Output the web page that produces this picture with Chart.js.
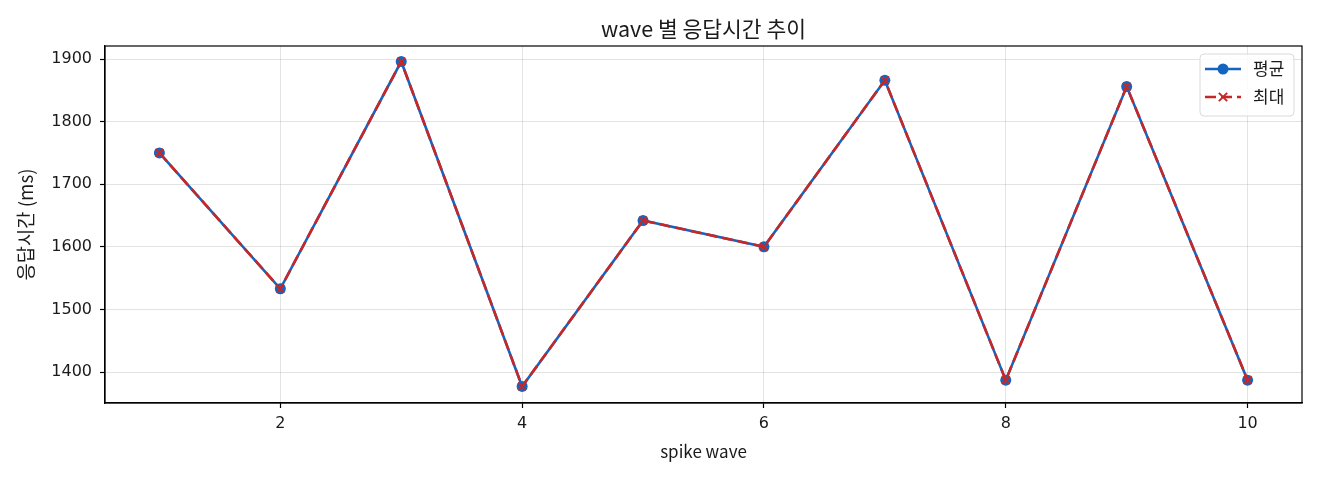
<!DOCTYPE html>
<html>
<head>
<meta charset="utf-8">
<script src="https://cdn.jsdelivr.net/npm/chart.js@4.4.1/dist/chart.umd.min.js"></script>
<style>
html,body{margin:0;padding:0;background:#fff;}
#wrap{width:1320px;height:480px;}
</style>
</head>
<body>
<div id="wrap"><canvas id="c" width="1320" height="480"></canvas></div>
<script>
const titleText = 'wave 별 응답시간 추이';
const xAxisLabel = 'spike wave';
const yAxisLabel = '응답시간 (ms)';
const waves = [1, 2, 3, 4, 5, 6, 7, 8, 9, 10];
const avgLabel = '평균';
const maxLabel = '최대';
const avgMs = [1750, 1533, 1896, 1377, 1642, 1600, 1866, 1387, 1856, 1387];
const maxMs = [1750, 1533, 1896, 1377, 1642, 1600, 1866, 1387, 1856, 1387];
const xTicks = [2, 4, 6, 8, 10];
const yTicks = [1400, 1500, 1600, 1700, 1800, 1900];
const xRange = [0.55, 10.45];
const yRange = [1350.5, 1920.8];

const BLUE = '#1565C0';
const RED = '#C62828';
const KR = '"Noto Sans CJK KR", "Noto Sans", sans-serif';
const NUM = '"DejaVu Sans", "Noto Sans CJK KR", sans-serif';
const TXT = '#1a1a1a';

const framePlugin = {
  id: 'frame',
  afterDatasetsDraw(chart) {
    const {ctx, chartArea: a} = chart;
    ctx.save();
    ctx.strokeStyle = '#000';
    ctx.lineWidth = 1.2;
    ctx.strokeRect(a.left, a.top, a.right - a.left, a.bottom - a.top);
    ctx.restore();
  },
  afterDraw(chart) {
    const {ctx, chartArea: a} = chart;
    ctx.save();
    ctx.fillStyle = TXT;
    ctx.font = '21.5px ' + KR;
    ctx.textAlign = 'center';
    ctx.textBaseline = 'middle';
    ctx.fillText(titleText, (a.left + a.right) / 2, 29);
    ctx.restore();
  }
};

const legendPlugin = {
  id: 'boxLegend',
  afterDraw(chart) {
    const {ctx} = chart;
    const a = chart.chartArea;
    const bx = a.right - 102, by = a.top + 8, bw = 94, bh = 62, r = 4;
    ctx.save();
    ctx.beginPath();
    ctx.roundRect(bx, by, bw, bh, r);
    ctx.fillStyle = 'rgba(255,255,255,0.85)';
    ctx.fill();
    ctx.strokeStyle = '#d9d9d9';
    ctx.lineWidth = 1;
    ctx.stroke();
    const rows = chart.data.datasets.map((ds, i) => ({ds, y: by + 15 + i * 28}));
    rows.forEach(({ds, y}) => {
      const x0 = bx + 5, x1 = bx + 41, xm = (x0 + x1) / 2;
      ctx.beginPath();
      ctx.setLineDash(ds.borderDash || []);
      ctx.lineWidth = ds.borderWidth;
      ctx.strokeStyle = ds.borderColor;
      ctx.moveTo(x0, y); ctx.lineTo(x1, y);
      ctx.stroke();
      ctx.setLineDash([]);
      if (ds.pointStyle === 'circle') {
        ctx.beginPath();
        ctx.arc(xm, y, ds.pointRadius, 0, Math.PI * 2);
        ctx.fillStyle = ds.pointBackgroundColor;
        ctx.fill();
      } else {
        const s = ds.pointRadius * 0.75;
        ctx.beginPath();
        ctx.lineWidth = ds.pointBorderWidth;
        ctx.strokeStyle = ds.pointBorderColor;
        ctx.moveTo(xm - s, y - s); ctx.lineTo(xm + s, y + s);
        ctx.moveTo(xm - s, y + s); ctx.lineTo(xm + s, y - s);
        ctx.stroke();
      }
      ctx.fillStyle = TXT;
      ctx.font = '17px ' + KR;
      ctx.textBaseline = 'middle';
      ctx.textAlign = 'left';
      ctx.fillText(ds.label, bx + 53, y);
    });
    ctx.restore();
  }
};

new Chart(document.getElementById('c'), {
  type: 'line',
  data: {
    datasets: [
      {
        label: avgLabel,
        data: waves.map((w, i) => ({x: w, y: avgMs[i]})),
        borderColor: BLUE,
        backgroundColor: BLUE,
        borderWidth: 2.6,
        pointStyle: 'circle',
        pointRadius: 5.5,
        pointBackgroundColor: BLUE,
        pointBorderColor: BLUE,
        pointBorderWidth: 0,
        tension: 0,
        order: 2
      },
      {
        label: maxLabel,
        data: waves.map((w, i) => ({x: w, y: maxMs[i]})),
        borderColor: RED,
        backgroundColor: RED,
        borderWidth: 2.6,
        borderDash: [11, 5],
        pointStyle: 'crossRot',
        pointRadius: 5.5,
        pointBackgroundColor: RED,
        pointBorderColor: RED,
        pointBorderWidth: 2,
        tension: 0,
        order: 1
      }
    ]
  },
  options: {
    responsive: false,
    devicePixelRatio: 1,
    animation: false,
    events: [],
    layout: {padding: {top: 46, right: 18, left: 0, bottom: 0}},
    plugins: {
      legend: {display: false},
      tooltip: {enabled: false},
      title: {display: false}
    },
    scales: {
      x: {
        type: 'linear',
        min: xRange[0],
        max: xRange[1],
        afterBuildTicks: s => { s.ticks = xTicks.map(v => ({value: v})); },
        afterFit: s => { s.height = 77; },
        ticks: {
          color: TXT,
          font: {family: NUM, size: 16},
          padding: 6,
          maxRotation: 0,
          autoSkip: false,
          callback: v => String(v)
        },
        grid: {
          color: 'rgba(176,176,176,0.35)',
          lineWidth: 1,
          drawTicks: true,
          tickLength: 5,
          tickColor: '#000',
          tickWidth: 1.2
        },
        border: {display: true, color: '#000', width: 1.2},
        title: {
          display: true,
          text: xAxisLabel,
          color: TXT,
          font: {family: KR, size: 17, lineHeight: 1.2},
          padding: {top: 0, bottom: 18}
        }
      },
      y: {
        type: 'linear',
        min: yRange[0],
        max: yRange[1],
        afterBuildTicks: s => { s.ticks = yTicks.map(v => ({value: v})); },
        afterFit: s => { s.width = 105; },
        ticks: {
          color: TXT,
          font: {family: NUM, size: 16},
          padding: 8,
          autoSkip: false,
          callback: v => String(v)
        },
        grid: {
          color: 'rgba(176,176,176,0.35)',
          lineWidth: 1,
          drawTicks: true,
          tickLength: 5,
          tickColor: '#000',
          tickWidth: 1.2
        },
        border: {display: true, color: '#000', width: 1.2},
        title: {
          display: true,
          text: yAxisLabel,
          color: TXT,
          font: {family: KR, size: 18.8, lineHeight: 1.2},
          padding: {top: 15, bottom: 0}
        }
      }
    }
  },
  plugins: [framePlugin, legendPlugin]
});
</script>
</body>
</html>
